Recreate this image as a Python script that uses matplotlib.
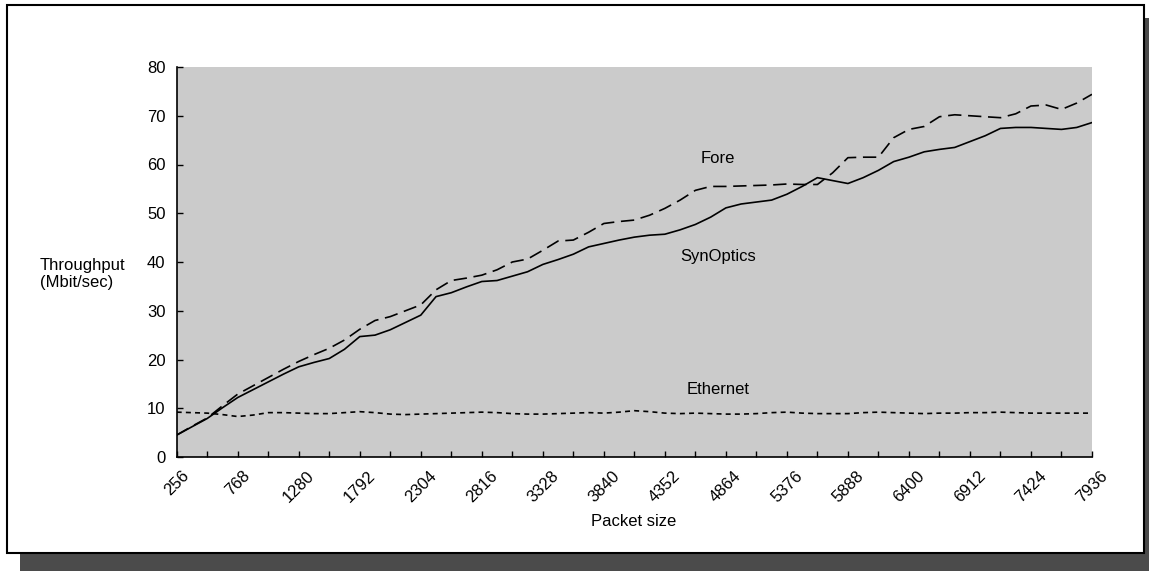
import matplotlib
matplotlib.use("Agg")
import matplotlib.pyplot as plt
from matplotlib.patches import Rectangle
from matplotlib.transforms import ScaledTranslation

plt.rcParams['font.family'] = ['Liberation Sans', 'DejaVu Sans']

# Packet sizes (bytes), measured every 128 bytes
packet_sizes = list(range(256, 7937, 128))

synoptics = [4.5, 6.2, 7.9, 10.1, 12.2, 13.8, 15.4, 17.0, 18.5, 19.4, 20.2, 22.1,
             24.7, 25.0, 26.1, 27.6, 29.1, 32.9, 33.7, 34.9, 36.0, 36.2, 37.1, 38.0,
             39.5, 40.5, 41.6, 43.1, 43.8, 44.5, 45.1, 45.5, 45.7, 46.6, 47.7, 49.2,
             51.1, 51.9, 52.3, 52.7, 53.9, 55.5, 57.3, 56.7, 56.1, 57.3, 58.8, 60.6,
             61.5, 62.6, 63.1, 63.5, 64.7, 65.9, 67.4, 67.6, 67.6, 67.4, 67.2, 67.6,
             68.6]

fore = [4.5, 6.3, 8.0, 10.5, 12.9, 14.6, 16.3, 18.0, 19.6, 21.0, 22.3, 24.0,
        26.2, 28.0, 28.8, 30.0, 31.2, 34.3, 36.2, 36.7, 37.3, 38.4, 40.0, 40.6,
        42.4, 44.3, 44.5, 46.1, 47.9, 48.3, 48.6, 49.6, 51.0, 52.7, 54.7, 55.5,
        55.5, 55.6, 55.7, 55.8, 56.0, 55.9, 55.9, 58.3, 61.4, 61.5, 61.5, 65.5,
        67.2, 67.8, 69.8, 70.2, 70.0, 69.8, 69.6, 70.4, 72.0, 72.2, 71.3, 72.6,
        74.4]

ethernet = [9.2, 9.1, 9.0, 8.7, 8.3, 8.6, 9.1, 9.1, 9.0, 8.9, 8.9, 9.1,
            9.3, 9.1, 8.8, 8.7, 8.8, 8.9, 9.0, 9.1, 9.2, 9.1, 8.9, 8.8,
            8.8, 8.9, 9.0, 9.1, 9.0, 9.2, 9.5, 9.3, 9.0, 8.9, 9.0, 8.9,
            8.8, 8.8, 8.9, 9.1, 9.2, 9.0, 8.9, 8.9, 8.9, 9.1, 9.2, 9.1,
            9.0, 8.9, 9.0, 9.0, 9.1, 9.1, 9.2, 9.1, 9.0, 9.0, 9.0, 9.0,
            9.0]

x_tick_labels = [str(v) for v in range(256, 7937, 512)]
y_ticks = list(range(0, 81, 10))

FS = 12
W, H = 1149, 571
fig = plt.figure(figsize=(W / 100, H / 100), dpi=100)
fig.patch.set_facecolor('white')


# drop shadow and outer frame, in pixel units
def px_rect(x0, y0, x1, y1, **kw):
    return Rectangle((x0 / W, 1 - y1 / H), (x1 - x0) / W, (y1 - y0) / H,
                     transform=fig.transFigure, **kw)


fig.patches.append(px_rect(20, 18, 1149, 571, facecolor='#4b4b4b',
                           edgecolor='none', zorder=0))
fig.patches.append(px_rect(7, 5, 1144, 553, facecolor='white',
                           edgecolor='black', linewidth=1.5, zorder=1))

ax = fig.add_axes([176.7 / W, 1 - 457 / H, (1092 - 176.7) / W, (457 - 67) / H])
ax.set_zorder(2)
ax.set_facecolor('#cbcbcb')

ax.plot(packet_sizes, synoptics, color='black', linewidth=1.2)
ax.plot(packet_sizes, fore, color='black', linewidth=1.2, dashes=(8, 4))
ax.plot(packet_sizes, ethernet, color='black', linewidth=1.2, dashes=(3, 2.5))

ax.set_xlim(256, 7936)
ax.set_ylim(0, 80)
ax.set_xticks(range(256, 7937, 512))
ax.set_xticks(range(512, 7937, 512), minor=True)
ax.set_xticklabels(x_tick_labels, rotation=45, ha='center', va='top', fontsize=FS)
shift = ScaledTranslation(-5 / 100, 0, fig.dpi_scale_trans)
for lab in ax.get_xticklabels():
    lab.set_transform(lab.get_transform() + shift)
ax.set_yticks(y_ticks)
ax.set_yticklabels([str(v) for v in y_ticks], fontsize=FS)
ax.tick_params(axis='both', which='both', direction='in', length=4, width=1,
               colors='black')
ax.tick_params(axis='x', which='major', pad=8)
ax.tick_params(axis='y', which='major', pad=8)

for side in ('top', 'right'):
    ax.spines[side].set_visible(False)
for side in ('left', 'bottom'):
    ax.spines[side].set_linewidth(1.2)

ax.text(4797, 61.3, 'Fore', ha='center', va='center', fontsize=FS)
ax.text(4797, 41.1, 'SynOptics', ha='center', va='center', fontsize=FS)
ax.text(4797, 13.9, 'Ethernet', ha='center', va='center', fontsize=FS)

fig.text(40 / W, 1 - 274 / H, 'Throughput\n(Mbit/sec)', ha='left', va='center',
         fontsize=FS, linespacing=1.1, zorder=3)
fig.text(634 / W, 1 - 521 / H, 'Packet size', ha='center', va='center',
         fontsize=FS, zorder=3)

fig.savefig('out.png', dpi=100)
